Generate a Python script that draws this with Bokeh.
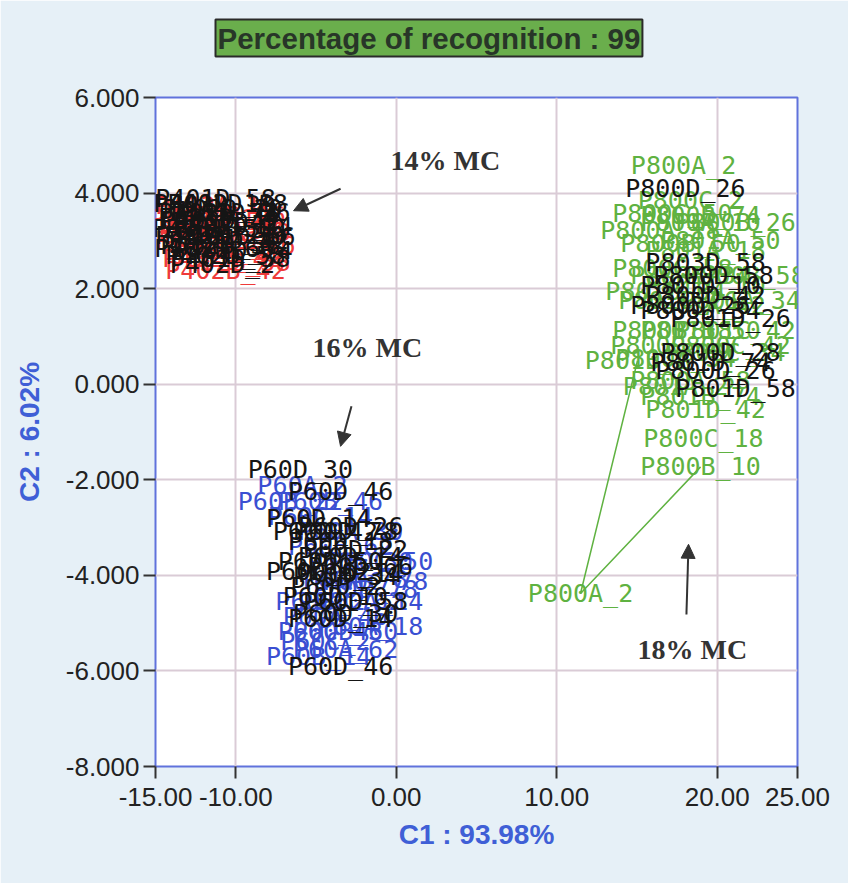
from bokeh.plotting import figure
from bokeh.models import (ColumnDataSource, FixedTicker, PrintfTickFormatter, Label,
                          Arrow, NormalHead, Range1d, Title)
from bokeh.core.properties import value
from bokeh.embed import file_html
from bokeh.resources import INLINE

# ---------------- data ----------------
title_text = "Percentage of recognition : 99"
x_label = "C1 : 93.98%"
y_label = "C2 : 6.02%"
x_ticks = [-15, -10, 0, 10, 20, 25]
y_ticks = [-8, -6, -4, -2, 0, 2, 4, 6]

# 14% MC class (red) and its black test samples
p402_labels = ["P402A_10", "P402B_26", "P402C_42", "P402A_58", "P402B_10", "P402C_26",
               "P402A_42", "P402B_58", "P402B_42", "P402C_10", "P402A_26", "P402C_58"]
p402_x = [-11.26, -10.64, -10.95, -10.33, -11.26, -10.64, -10.83, -10.33, -10.64, -11.57, -10.02, -11.07]
p402_y = [3.74, 3.53, 3.32, 3.17, 3.00, 2.79, 2.63, 2.54, 2.37, 3.46, 2.90, 3.21]

p402d_labels = ["P401D_58", "P402D_10", "P401D_26", "P402D_42", "P401D_10", "P402D_26",
                "P401D_42", "P402D_58", "P402D_58", "P401D_74", "P402D_74", "P401D_2",
                "P401D_18", "P402D_18", "P401D_34", "P402D_34", "P401D_50", "P402D_50",
                "P401D_66", "P402D_66", "P401D_58", "P402D_2"]
p402d_x = [-11.26, -10.83, -10.33, -10.95, -10.64, -11.26, -10.45, -10.95, -10.64, -10.20, -11.07, -10.58,
           -11.39, -10.51, -11.07, -10.20, -11.45, -10.70, -10.02, -11.32, -10.33, -10.83]
p402d_y = [3.88, 3.67, 3.59, 3.42, 3.25, 3.11, 3.00, 2.90, 2.69, 2.79, 3.59, 3.38,
           3.78, 3.78, 3.48, 3.30, 3.25, 3.11, 3.09, 2.84, 2.63, 2.50]

# 16% MC class (blue) and its black test samples
p60_labels = ["P60A_2", "P60B_46", "P60C_14", "P60A_30", "P60B_62", "P60C_30", "P60A_78",
              "P60B_78", "P60C_62", "P60A_46", "P60B_30", "P60C_2", "P60A_62", "P60B_14",
              "P60C_78", "P60A_14", "P60B_2", "P60C_46", "P60A_18", "P60B_22", "P60C_50"]
p60_x = [-5.84, -4.10, -4.72, -2.85, -3.47, -2.23, -2.54, -1.92, -2.85, -3.79, -3.16, -4.41, -3.16, -4.84,
         -1.29, -1.60, -4.72, -4.10, -1.60, -6.59, -0.98]
p60_y = [-2.13, -2.45, -2.76, -3.08, -3.39, -3.70, -4.08, -4.29, -4.54, -4.86, -5.17, -5.38, -5.55, -5.70,
         -4.12, -4.54, -4.54, -5.17, -5.07, -2.45, -3.70]

p60d_labels = ["P60D_30", "P60D_46", "P60D_14", "P60D_78", "P60D_14", "P60D_62",
               "P60D_14", "P60D_2", "P60D_30", "P60D_14", "P60D_46",
               "P60D_18", "P60D_22", "P60D_50", "P60D_66", "P60D_34", "P60D_10",
               "P60D_58", "P60D_26", "P60D_42"]
p60d_x = [-5.97, -3.47, -4.84, -3.16, -2.85, -4.84, -2.85, -3.79, -3.16, -3.47, -3.47,
          -3.47, -2.54, -4.10, -2.23, -3.16, -3.79, -2.54, -2.85, -4.41]
p60d_y = [-1.78, -2.24, -2.80, -3.08, -3.60, -3.91, -3.96, -4.23, -4.79, -4.90, -5.91,
          -3.29, -3.45, -3.70, -3.81, -4.02, -4.44, -4.54, -2.97, -3.08]

# 18% MC class (green) and its black test samples
p800_labels = ["P800A_2", "P800B_74", "P800C_50", "P800A_10", "P800B_50", "P801A_18",
               "P800C_58", "P800B_34", "P801C_26", "P800A_42", "P800B_18", "P801B_50",
               "P800A_34", "P800C_34", "P800A_58", "P801D_42", "P800C_18", "P800B_10",
               "P800A_2", "P801C_10", "P800B_26", "P801A_34", "P800C_42", "P801A_2",
               "P800C_2", "P801B_2", "P800A_18", "P801B_34", "P800C_26", "P801A_50",
               "P800B_58", "P801C_42", "P801B_74"]
p800_x = [17.90, 18.96, 17.21, 18.96, 17.71, 19.27, 17.21, 18.33, 17.59, 19.27, 17.21, 18.96,
          17.40, 20.51, 18.33, 19.27, 19.14, 18.96, 11.48, 19.27, 21.14, 21.45, 20.83, 17.40,
          18.33, 15.03, 16.46, 16.78, 17.09, 20.20, 21.76, 21.14, 18.96]
p800_y = [4.57, 3.53, 3.57, 3.38, 2.94, 2.79, 2.42, 2.27, 1.75, 1.64, 1.12, 1.12,
          0.53, 0.66, 0.07, -0.52, -1.13, -1.73, -4.38, 2.06, 3.38, 1.75, 0.80, -0.04,
          3.84, 0.49, 3.21, 1.95, 0.80, 3.00, 2.27, 1.12, -0.25]

p800d_labels = ["P800D_26", "P803D_58", "P800D_58", "P801D_10", "P800D_42", "P800D_26",
                "P801D_26", "P800D_28", "P801D_74", "P800D_26", "P801D_58", "P800D_34"]
p800d_x = [18.02, 19.27, 19.77, 18.96, 19.27, 18.33, 20.83, 20.20, 19.58, 19.89, 21.14, 18.96]
p800d_y = [4.09, 2.54, 2.27, 2.06, 1.85, 1.64, 1.37, 0.66, 0.45, 0.28, -0.08, 1.54]

# trajectory drawn through the green outlier
p800_path_x = [15.03, 11.48, 18.96]
p800_path_y = [0.49, -4.38, -1.73]

# ---------------- styles ----------------
RED = "#ee3a3a"
BLUE = "#3a4fd2"
GREEN = "#5fb241"
BLACK = "#151515"
AXIS_BLUE = "#3f5fd6"
LABEL_FONT = value("DejaVu Sans Mono")
LABEL_SIZE = "25px"

p = figure(width=848, height=883, x_range=Range1d(-15, 25), y_range=Range1d(-8, 6),
           output_backend="svg", toolbar_location=None,
           min_border_left=155, min_border_right=51, min_border_top=97, min_border_bottom=117,
           background_fill_color="white", border_fill_color="#e6f0f7")

# main title (outermost in the "above" panel)
p.title = Title(text=title_text, align="left", offset=60, standoff=0,
                text_font="Liberation Sans", text_font_size="29.5px", text_font_style="bold",
                text_color="#283628", background_fill_color="#6aae4c",
                border_line_color="#2a2a2a", border_line_width=2, padding=2)
# empty spacer between the title and the frame
p.add_layout(Title(text=" ", text_font_size="29px", standoff=7), "above")

p.outline_line_color = "#6072dc"
p.outline_line_width = 2

for ax in (p.xaxis[0], p.yaxis[0]):
    ax.axis_line_color = None
    ax.major_tick_out = 12
    ax.major_tick_in = 0
    ax.minor_tick_line_color = None
    ax.major_tick_line_color = "#333333"
    ax.major_tick_line_width = 2
    ax.major_label_text_font = "Liberation Sans"
    ax.major_label_text_font_size = "26px"
    ax.major_label_text_color = "#222222"
    ax.axis_label_text_font = "Liberation Sans"
    ax.axis_label_text_font_size = "28px"
    ax.axis_label_text_font_style = "bold"
    ax.axis_label_text_color = AXIS_BLUE

p.xaxis.ticker = FixedTicker(ticks=x_ticks)
p.yaxis.ticker = FixedTicker(ticks=y_ticks)
p.xaxis.formatter = PrintfTickFormatter(format="%.2f")
p.yaxis.formatter = PrintfTickFormatter(format="%.3f")
p.xaxis.axis_label = x_label
p.yaxis.axis_label = y_label
p.xaxis.major_label_standoff = 9
p.yaxis.major_label_standoff = 4
p.xaxis.axis_label_standoff = 10
p.yaxis.axis_label_standoff = 18

p.grid.grid_line_color = "#dacbd6"
p.grid.grid_line_width = 2

# green trajectory
p.line(p800_path_x, p800_path_y, line_color=GREEN, line_width=1.5)

def labels(xs, ys, txt, color):
    src = ColumnDataSource(dict(x=xs, y=ys, t=txt))
    p.text(x="x", y="y", text="t", source=src, text_font=LABEL_FONT,
           text_font_size=LABEL_SIZE, text_color=color,
           text_align="center", text_baseline="middle")

labels(p402_x, p402_y, p402_labels, RED)
labels(p60_x, p60_y, p60_labels, BLUE)
labels(p800_x, p800_y, p800_labels, GREEN)
labels(p402d_x, p402d_y, p402d_labels, BLACK)
labels(p60d_x, p60d_y, p60d_labels, BLACK)
labels(p800d_x, p800d_y, p800d_labels, BLACK)

# annotations
ann_style = dict(text_font="Liberation Serif", text_font_size="28px", text_font_style="bold",
                 text_color="#333333", text_baseline="middle", text_align="left")
p.add_layout(Label(x=-0.36, y=4.68, text="14% MC", **ann_style))
p.add_layout(Label(x=-5.22, y=0.76, text="16% MC", **ann_style))
p.add_layout(Label(x=15.03, y=-5.55, text="18% MC", **ann_style))

head = dict(size=14, fill_color="#333333", line_color="#333333")
p.add_layout(Arrow(end=NormalHead(**head), x_start=-3.47, y_start=4.09, x_end=-6.40, y_end=3.63,
                   line_color="#333333", line_width=2))
p.add_layout(Arrow(end=NormalHead(**head), x_start=-2.79, y_start=-0.46, x_end=-3.47, y_end=-1.30,
                   line_color="#333333", line_width=2))
p.add_layout(Arrow(end=NormalHead(**head), x_start=18.08, y_start=-4.82, x_end=18.21, y_end=-3.35,
                   line_color="#333333", line_width=2))

open("out.html", "w").write(file_html(p, INLINE))
